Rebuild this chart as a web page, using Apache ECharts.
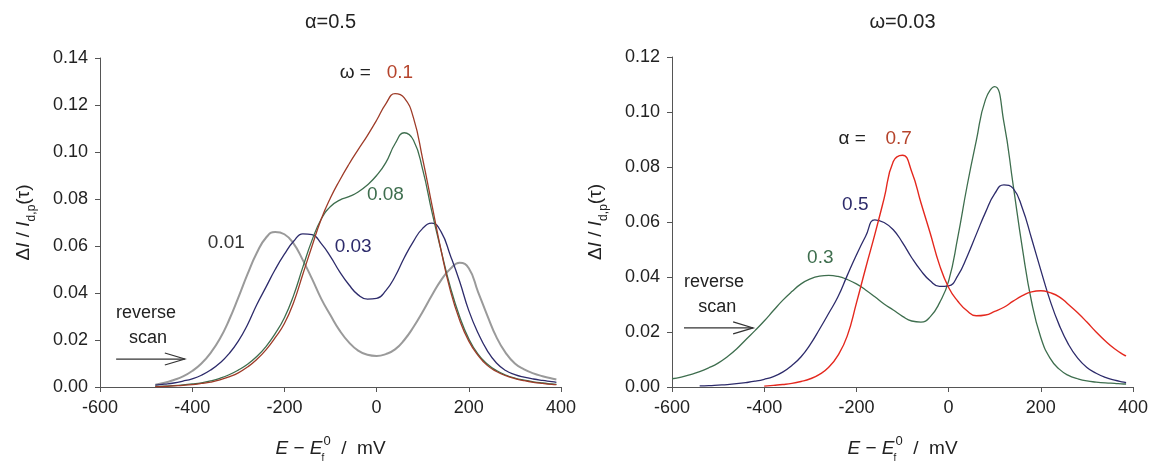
<!DOCTYPE html>
<html><head><meta charset="utf-8">
<script src="https://cdn.jsdelivr.net/npm/echarts@6/dist/echarts.min.js"></script>
<style>html,body{margin:0;padding:0;background:#fff}#c{width:1151px;height:466px}</style>
</head><body><div id="c"></div>
<script>
// ---------- DATA ----------
const xTicks = [-600, -400, -200, 0, 200, 400];

// Left panel (alpha = 0.5), potential E - Ef0 / mV
const leftE = [-480,-460,-440,-420,-400,-380,-360,-340,-320,-300,-280,-260,-240,-220,-200,-180,-160,-140,-120,-100,-80,-60,-40,-20,0,20,40,60,80,100,120,140,160,180,200,220,240,260,280,300,320,340,360,380,390];
const leftW001 = [0.001,0.0018,0.003,0.0045,0.0068,0.010,0.0145,0.0205,0.0285,0.038,0.048,0.057,0.0635,0.066,0.065,0.061,0.054,0.046,0.0375,0.0305,0.024,0.019,0.0155,0.0137,0.0132,0.014,0.016,0.020,0.0255,0.032,0.039,0.0455,0.0503,0.0529,0.0505,0.0405,0.0305,0.0212,0.0145,0.010,0.0075,0.0058,0.0046,0.0036,0.0032];
const leftW003 = [0.0008,0.0012,0.0017,0.0025,0.0035,0.005,0.0072,0.0102,0.0142,0.0195,0.0265,0.035,0.0425,0.050,0.0565,0.062,0.0652,0.0648,0.061,0.0555,0.049,0.0435,0.0392,0.0374,0.0377,0.041,0.047,0.055,0.062,0.0675,0.0697,0.066,0.056,0.045,0.0325,0.023,0.0155,0.0102,0.007,0.0053,0.0042,0.0034,0.0028,0.0023,0.002];
const leftW008 = [0.0003,0.0004,0.0006,0.0009,0.0013,0.0018,0.0026,0.0037,0.0052,0.0072,0.0097,0.013,0.0172,0.0227,0.0295,0.039,0.051,0.0625,0.0715,0.0768,0.0795,0.081,0.083,0.086,0.090,0.0955,0.1035,0.1082,0.105,0.0925,0.0745,0.058,0.0425,0.030,0.0205,0.014,0.0098,0.007,0.0051,0.0038,0.0029,0.0022,0.0017,0.0013,0.0011];
const leftW01 = [0.0002,0.0003,0.0005,0.0007,0.001,0.0015,0.0021,0.003,0.0043,0.006,0.0085,0.0117,0.0158,0.021,0.027,0.036,0.048,0.060,0.0715,0.0805,0.088,0.0948,0.101,0.107,0.1135,0.1205,0.1248,0.123,0.1145,0.097,0.0775,0.058,0.041,0.0285,0.0195,0.0135,0.0092,0.0066,0.0048,0.0036,0.0027,0.002,0.0015,0.0011,0.001];

// Right panel (omega = 0.03)
const rightE_a03 = [-600,-580,-560,-540,-520,-500,-480,-460,-440,-420,-400,-380,-360,-340,-320,-300,-280,-260,-240,-220,-200,-180,-160,-140,-120,-100,-80,-60,-40,-20,0,20,40,60,80,100,120,140,160,180,200,220,240,260,280,300,320,340,360,380,385];
const rightA03 = [0.003,0.0036,0.0045,0.0056,0.007,0.0087,0.011,0.0138,0.0172,0.0205,0.024,0.0278,0.0315,0.0347,0.0375,0.0393,0.0403,0.0406,0.0402,0.0391,0.0375,0.0353,0.0328,0.0302,0.028,0.0257,0.024,0.0236,0.0255,0.0305,0.0385,0.0545,0.073,0.0895,0.1045,0.1092,0.0962,0.0735,0.0505,0.031,0.018,0.0105,0.0065,0.0042,0.003,0.0022,0.0018,0.0015,0.0013,0.0011,0.0011];
const rightE_a05 = [-540,-520,-500,-480,-460,-440,-420,-400,-380,-360,-340,-320,-300,-280,-260,-240,-220,-200,-180,-160,-140,-120,-100,-80,-60,-40,-20,0,20,40,60,80,100,120,140,160,180,200,220,240,260,280,300,320,340,360,380,385];
const rightA05 = [0.0004,0.0005,0.0007,0.0009,0.0012,0.0016,0.0021,0.0028,0.0038,0.0054,0.0078,0.011,0.0155,0.021,0.0268,0.0328,0.0405,0.048,0.0548,0.0608,0.0598,0.0572,0.0525,0.047,0.0423,0.0386,0.0366,0.0368,0.0405,0.0474,0.0555,0.0635,0.0703,0.0735,0.0722,0.065,0.054,0.0425,0.0315,0.0225,0.0155,0.0105,0.0071,0.005,0.0035,0.0025,0.0018,0.0016];
const rightE_a07 = [-400,-380,-360,-340,-320,-300,-280,-260,-240,-220,-200,-180,-160,-140,-120,-100,-80,-60,-40,-20,0,20,40,60,80,100,120,140,160,180,200,220,240,260,280,300,320,340,360,380,385];
const rightA07 = [0.0003,0.0006,0.0009,0.0013,0.002,0.003,0.0046,0.0072,0.0115,0.0185,0.0305,0.0432,0.0555,0.0685,0.082,0.0843,0.0783,0.067,0.056,0.0445,0.0362,0.0312,0.0277,0.0259,0.0262,0.0275,0.029,0.0312,0.0332,0.0346,0.035,0.0343,0.0328,0.030,0.027,0.0236,0.020,0.0167,0.0139,0.0117,0.0113];

// ---------- STYLE ----------
const FONT = "'Liberation Sans', Arial, sans-serif";
const C = {grey:'#9a9a9a', navy:'#2d2b6b', green:'#3e6e4e', brown:'#9e3b28', red:'#e4281e', lblBrown:'#b5432b', txt:'#222'};

function pairs(xs, ys){ return xs.map((x,i)=>[x, ys[i]]); }

const nameRich = {
  n:{fontSize:19, fontFamily:FONT, color:C.txt, lineHeight:28},
  i:{fontSize:19, fontFamily:FONT, fontStyle:'italic', color:C.txt, lineHeight:28},
  s:{fontSize:12, fontFamily:FONT, color:C.txt, lineHeight:28, verticalAlign:'bottom'},
  f:{fontSize:10, fontFamily:FONT, color:C.txt, lineHeight:28, verticalAlign:'bottom', width:1},
  p:{fontSize:13, fontFamily:FONT, color:C.txt, lineHeight:28, verticalAlign:'top'}
};

function xAxis(gi){
  return {
    gridIndex:gi, type:'value', min:-600, max:400, interval:200,
    axisLine:{show:true, onZero:false, lineStyle:{color:'#555', width:1}},
    axisTick:{show:true, length:5, lineStyle:{color:'#555'}},
    axisLabel:{fontSize:18, fontFamily:FONT, color:C.txt, margin:12, customValues: xTicks},
    splitLine:{show:false},
    name:'{i|E}{n| − }{i|E}{f|f}{p|0}{n|  /  mV}',
    nameLocation:'middle', nameGap:48,
    nameTextStyle:{rich:nameRich}
  };
}
function yAxis(gi, max){
  return {
    gridIndex:gi, type:'value', min:0, max:max, interval:0.02,
    axisLine:{show:true, onZero:false, lineStyle:{color:'#555', width:1}},
    axisTick:{show:true, length:5, lineStyle:{color:'#555'}},
    axisLabel:{fontSize:18, fontFamily:FONT, color:C.txt, margin:12, formatter:v=>v.toFixed(2)},
    splitLine:{show:false},
    name:'{n|Δ}{i|I}{n| / }{i|I}{s|d,p}{n|(τ)}',
    nameLocation:'middle', nameGap:62, nameRotate:90,
    nameTextStyle:{rich:nameRich}
  };
}
function line(gi, xs, ys, color, w){
  return {type:'line', xAxisIndex:gi, yAxisIndex:gi, data:pairs(xs,ys),
    showSymbol:false, smooth:0.5, lineStyle:{color:color, width:w}, silent:true, animation:false};
}

const chart = echarts.init(document.getElementById('c'), null, {renderer:'canvas'});
chart.setOption({
  backgroundColor:'#ffffff',
  animation:false,
  grid:[
    {left:100, top:58, width:461, height:329, containLabel:false, outerBoundsMode:'none'},
    {left:672, top:57, width:461, height:330, containLabel:false, outerBoundsMode:'none'}
  ],
  xAxis:[xAxis(0), xAxis(1)],
  yAxis:[yAxis(0, 0.14), yAxis(1, 0.12)],
  series:[
    line(0, leftE, leftW001, C.grey, 2),
    line(0, leftE, leftW003, C.navy, 1.3),
    line(0, leftE, leftW008, C.green, 1.3),
    line(0, leftE, leftW01, C.brown, 1.3),
    line(1, rightE_a03, rightA03, C.green, 1.3),
    line(1, rightE_a05, rightA05, C.navy, 1.3),
    line(1, rightE_a07, rightA07, C.red, 1.4)
  ]
});

// ---------- ANNOTATIONS (placed in data coordinates) ----------
const leftNotes = [
  {t:'ω = ', x:-80, y:0.1336, c:C.txt, a:'left'},
  {t:'0.1', x:22, y:0.1336, c:C.lblBrown, a:'left'},
  {t:'0.08', x:-21, y:0.0817, c:C.green, a:'left'},
  {t:'0.03', x:-91, y:0.0596, c:C.navy, a:'left'},
  {t:'0.01', x:-366, y:0.0613, c:'#333', a:'left'},
  {t:'reverse', x:-500, y:0.0315, c:C.txt, a:'center', fs:18},
  {t:'scan', x:-496, y:0.0209, c:C.txt, a:'center', fs:18}
];
const rightNotes = [
  {t:'α = ', x:-239, y:0.0902, c:C.txt, a:'left'},
  {t:'0.7', x:-137, y:0.0902, c:C.lblBrown, a:'left'},
  {t:'0.5', x:-231, y:0.0662, c:C.navy, a:'left'},
  {t:'0.3', x:-307, y:0.0469, c:C.green, a:'left'},
  {t:'reverse', x:-509, y:0.0382, c:C.txt, a:'center', fs:18},
  {t:'scan', x:-502, y:0.0291, c:C.txt, a:'center', fs:18}
];
const arrows = [
  {gi:0, x0:-565, x1:-416, y:0.0119},
  {gi:1, x0:-574, x1:-424, y:0.0215}
];
const titles = [{gi:0, t:'α=0.5'}, {gi:1, t:'ω=0.03'}];

const px = (gi, x, y) => chart.convertToPixel({gridIndex:gi}, [x, y]);
const els = [];
[[0,leftNotes],[1,rightNotes]].forEach(([gi, notes])=>{
  notes.forEach(n=>{
    const p = px(gi, n.x, n.y);
    els.push({type:'text', x:p[0], y:p[1], silent:true,
      style:{text:n.t, fill:n.c, font:(n.fs||19)+'px '+FONT,
        textAlign:n.a, align:n.a, textVerticalAlign:'middle', verticalAlign:'middle'}});
  });
});
arrows.forEach(a=>{
  const p0 = px(a.gi, a.x0, a.y), p1 = px(a.gi, a.x1, a.y);
  els.push({type:'line', silent:true, shape:{x1:p0[0], y1:p0[1], x2:p1[0], y2:p1[1]},
    style:{stroke:'#333', lineWidth:1.2}});
  els.push({type:'polyline', silent:true,
    shape:{points:[[p1[0]-20, p1[1]-6],[p1[0], p1[1]],[p1[0]-20, p1[1]+6]]},
    style:{stroke:'#333', lineWidth:1.2, fill:null}});
});
titles.forEach(tt=>{
  const p = px(tt.gi, -100, 0);
  els.push({type:'text', x:p[0], y:22, silent:true,
    style:{text:tt.t, fill:C.txt, font:'20px '+FONT,
      textAlign:'center', align:'center', textVerticalAlign:'middle', verticalAlign:'middle'}});
});
chart.setOption({graphic:{elements:els}});
</script>
</body></html>
